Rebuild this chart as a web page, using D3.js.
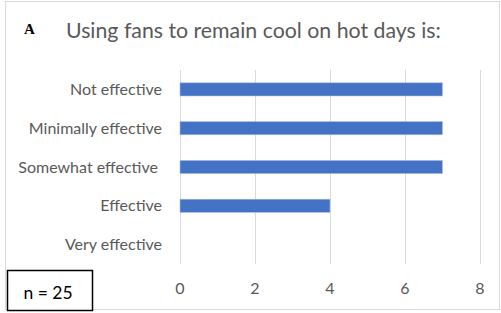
<!doctype html>
<html lang="en">
  <head>
    <meta charset="utf-8">
    <title>Using fans to remain cool</title>
    <script src="https://d3js.org/d3.v7.min.js"></script>
    <style>
      body { margin: 0; background: #fff; }
      svg { display: block; font-family: Lato, "Open Sans", sans-serif; }
    </style>
  </head>
  <body>
    <div id="chart"></div>
  </body>
  <script>
    // data
    const categories = ['Not effective', 'Minimally effective', 'Somewhat effective ', 'Effective', 'Very effective'];
    const counts = [7, 7, 7, 4, 0];
    const xTicks = [0, 2, 4, 6, 8];
    const sampleSize = 25;

    const w = 501, h = 313;
    const margin = { top: 70, right: 21, bottom: 49, left: 180 };

    const svg = d3.select('#chart')
      .append('svg')
      .attr('width', w)
      .attr('height', h);

    // outer frame
    svg.append('rect')
      .attr('x', 5.5).attr('y', 1.5)
      .attr('width', 494).attr('height', 308)
      .attr('fill', 'none')
      .attr('stroke', '#d9d9d9');

    const x = d3.scaleLinear()
      .domain([0, 8])
      .range([margin.left, w - margin.right]);

    const y = d3.scaleBand()
      .domain(categories)
      .range([margin.top, h - margin.bottom])
      .paddingInner(0.66)
      .paddingOuter(0.33);

    // gridlines
    svg.append('g')
      .selectAll('line')
      .data(xTicks)
      .join('line')
      .attr('x1', d => Math.round(x(d)) + 0.5)
      .attr('x2', d => Math.round(x(d)) + 0.5)
      .attr('y1', margin.top)
      .attr('y2', h - margin.bottom)
      .attr('stroke', '#d9d9d9')
      .attr('stroke-width', 1);

    // bars
    svg.append('g')
      .selectAll('rect')
      .data(categories)
      .join('rect')
      .attr('x', x(0))
      .attr('y', d => y(d))
      .attr('width', (d, i) => x(counts[i]) - x(0))
      .attr('height', y.bandwidth())
      .attr('fill', '#4472c4')
      .attr('stroke', '#a9bfe6')
      .attr('stroke-width', 0.6);

    // category labels
    svg.append('g')
      .selectAll('text')
      .data(categories)
      .join('text')
      .attr('x', margin.left - 18)
      .attr('y', d => y(d) + y.bandwidth() / 2)
      .attr('dy', '0.35em')
      .attr('text-anchor', 'end')
      .attr('fill', '#595959')
      .attr('font-size', '16px')
      .style('white-space', 'pre')
      .text(d => d);

    // x tick labels
    svg.append('g')
      .selectAll('text')
      .data(xTicks)
      .join('text')
      .attr('x', d => x(d))
      .attr('y', 288)
      .attr('dy', '0.35em')
      .attr('text-anchor', 'middle')
      .attr('fill', '#595959')
      .attr('font-size', '16px')
      .text(d => d);

    // title
    svg.append('text')
      .attr('x', 24)
      .attr('y', 34)
      .attr('font-family', '"Liberation Serif", serif')
      .attr('font-weight', 'bold')
      .attr('font-size', '15px')
      .attr('fill', '#000')
      .text('A');

    svg.append('text')
      .attr('x', 66)
      .attr('y', 38)
      .attr('fill', '#595959')
      .attr('font-size', '21.3px')
      .text('Using fans to remain cool on hot days is:');

    // n box
    svg.append('rect')
      .attr('x', 7.5).attr('y', 270.5)
      .attr('width', 85).attr('height', 40)
      .attr('fill', '#fff')
      .attr('stroke', '#000')
      .attr('stroke-width', 1.5);

    svg.append('text')
      .attr('x', 48)
      .attr('y', 293)
      .attr('dy', '0.35em')
      .attr('text-anchor', 'middle')
      .attr('fill', '#000')
      .attr('font-size', '17.5px')
      .text('n = ' + sampleSize);
  </script>
</html>
